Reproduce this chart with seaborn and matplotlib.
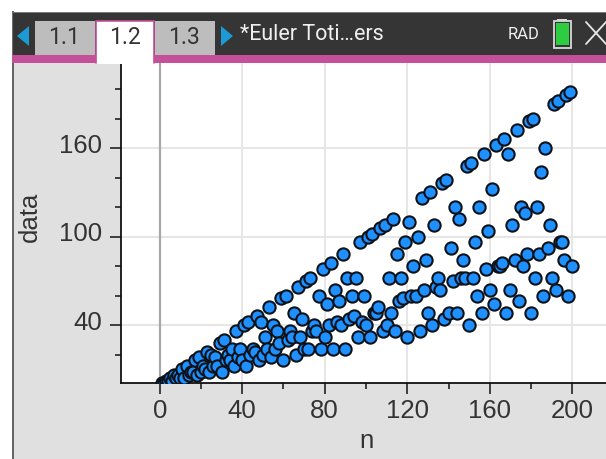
import matplotlib
matplotlib.use("Agg")
import matplotlib.pyplot as plt
from matplotlib.patches import Rectangle, Polygon
from matplotlib.transforms import ScaledTranslation
import pandas as pd
import seaborn as sns

n_values = list(range(1, 201))
phi_values = [
    1, 1, 2, 2, 4, 2, 6, 4, 6, 4,
    10, 4, 12, 6, 8, 8, 16, 6, 18, 8,
    12, 10, 22, 8, 20, 12, 18, 12, 28, 8,
    30, 16, 20, 16, 24, 12, 36, 18, 24, 16,
    40, 12, 42, 20, 24, 22, 46, 16, 42, 20,
    32, 24, 52, 18, 40, 24, 36, 28, 58, 16,
    60, 30, 36, 32, 48, 20, 66, 32, 44, 24,
    70, 24, 72, 36, 40, 36, 60, 24, 78, 32,
    54, 40, 82, 24, 64, 42, 56, 40, 88, 24,
    72, 44, 60, 46, 72, 32, 96, 42, 60, 40,
    100, 32, 102, 48, 48, 52, 106, 36, 108, 40,
    72, 48, 112, 36, 88, 56, 72, 58, 96, 32,
    110, 60, 80, 60, 100, 36, 126, 64, 84, 48,
    130, 40, 108, 66, 72, 64, 136, 44, 138, 48,
    92, 70, 120, 48, 112, 72, 84, 72, 148, 40,
    150, 72, 96, 60, 120, 48, 156, 78, 104, 64,
    132, 54, 162, 80, 80, 82, 166, 48, 156, 64,
    108, 84, 172, 56, 120, 80, 116, 88, 178, 48,
    180, 72, 120, 88, 144, 60, 160, 92, 108, 72,
    190, 64, 192, 96, 96, 84, 196, 60, 198, 80,
]
x_major = [0, 40, 80, 120, 160, 200]
x_minor = [20, 60, 100, 140, 180]
y_major = [40, 100, 160]
y_minor = [20, 60, 80, 120, 140, 180, 200]
tabs = ["1.1", "1.2", "1.3"]
doc_title = "*Euler Toti\u2026ers"

W, H = 606, 459
FONT = "Liberation Sans"
HEAD = "Roboto"
TEXT = "#333333"
GREY = "#e0e0e0"
DARK = "#353535"
PINK = "#c4509a"
BLUE = "#1c9ad6"

sns.set_theme(style="white")
plt.rcParams["font.family"] = [FONT, "DejaVu Sans"]
fig = plt.figure(figsize=(W / 100, H / 100), dpi=100, facecolor="white")


def px_axes(zorder):
    a = fig.add_axes([0, 0, 1, 1], zorder=zorder)
    a.set_xlim(0, W)
    a.set_ylim(H, 0)
    a.axis("off")
    a.patch.set_alpha(0)
    return a


back = px_axes(0)
back.add_patch(Rectangle((13, 12), W - 13, H - 12, fc=GREY, ec="none"))
back.add_patch(Rectangle((11.5, 11), 2.4, H - 11, fc="#666666", ec="none"))

L, R, T, B = 120.5, 606, 63, 382.7
ax = fig.add_axes([L / W, 1 - B / H, (R - L) / W, (B - T) / H], zorder=1)
ax.set_facecolor("white")
df = pd.DataFrame({"n": n_values, "data": phi_values})
sns.scatterplot(data=df, x="n", y="data", ax=ax, s=78, color="#1e90ff",
                edgecolor="#0c1218", linewidth=1.5, zorder=3, clip_on=True)
px_x = 2.063
px_y = 1.475
ax.set_xlim(-(159.7 - L) / px_x, (R - 159.7) / px_x)
ax.set_ylim(40 - (B - 325) / px_y, 40 + (325 - T) / px_y)
ax.set_xticks(x_major)
ax.set_xticks(x_minor, minor=True)
ax.set_yticks(y_major)
ax.set_yticks(y_minor, minor=True)
ax.grid(True, which="major", color="#e6e6e6", linewidth=1.4, zorder=0)
ax.set_axisbelow(True)
ax.axvline(0, color="#a8a8a8", linewidth=1.6, zorder=1)
for side in ("top", "right"):
    ax.spines[side].set_visible(False)
for side in ("left", "bottom"):
    ax.spines[side].set_color("#111111")
    ax.spines[side].set_linewidth(1.3)
ax.tick_params(which="major", length=8, width=1.2, color="#222222", labelsize=18.5,
               labelcolor=TEXT, bottom=True, left=True)
ax.tick_params(axis="x", which="major", pad=4)
ax.tick_params(axis="y", which="major", pad=5.5)
ax.tick_params(which="minor", length=4.5, width=1.2, color="#222222", bottom=True, left=True)
shift_up = ScaledTranslation(0, 5 / 100, fig.dpi_scale_trans)
for lab in ax.get_yticklabels():
    lab.set_transform(lab.get_transform() + shift_up)
ax.set_xlabel("n", fontsize=18.5, color=TEXT)
ax.xaxis.set_label_coords((366 - L) / (R - L), (B - 441.5) / (B - T))
ax.xaxis.label.set_va("center")
ax.set_ylabel("data", fontsize=18.5, color=TEXT)
ax.yaxis.set_label_coords((30 - L) / (R - L), (B - 217) / (B - T))
ax.yaxis.label.set_va("center")

top = px_axes(2)
top.add_patch(Rectangle((11.5, 11.5), W - 11.5, 44, fc=DARK, ec="#777777", lw=0.6))
top.add_patch(Rectangle((12, 55), W - 12, 8, fc=PINK, ec="none"))
top.add_patch(Polygon([(17, 36), (29, 26), (29, 46)], closed=True, fc=BLUE, ec="none"))
top.add_patch(Polygon([(221, 26), (233, 36), (221, 46)], closed=True, fc=BLUE, ec="none"))
for (x0, x1), label in zip([(35, 95), (155, 215)], [tabs[0], tabs[2]]):
    top.add_patch(Rectangle((x0, 21), x1 - x0, 34, fc="#bdbdbd", ec="none"))
    top.text((x0 + x1) / 2 - 1, 37.5, label, ha="center", va="center", fontsize=16.5,
             color="#333333", family=HEAD)
top.add_patch(Rectangle((96, 21), 58, 43, fc="white", ec="none"))
top.plot([96, 96, 154, 154], [63, 21, 21, 63], color=PINK, lw=1.2)
top.text(125, 37.5, tabs[1], ha="center", va="center", fontsize=16.5, color="#333333", family=HEAD)
top.text(240, 35, doc_title, ha="left", va="center", fontsize=15.5, color="#f0f0f0", family=HEAD)
top.text(524, 34.5, "RAD", ha="center", va="center", fontsize=12, color="#f0f0f0", family=HEAD)
top.add_patch(Rectangle((553.5, 21), 17, 26.5, fc=DARK, ec="#d8d8d8", lw=1.3))
top.add_patch(Rectangle((555.5, 23), 13, 22, fc="#2ecc40", ec="none"))
top.add_patch(Rectangle((557, 18.5), 10, 2.5, fc="#d8d8d8", ec="none"))
top.plot([586, 606], [22, 44], color="#e8e8e8", lw=1.3)
top.plot([586, 606], [44, 22], color="#e8e8e8", lw=1.3)

fig.savefig("out.png", dpi=100, facecolor="white")
